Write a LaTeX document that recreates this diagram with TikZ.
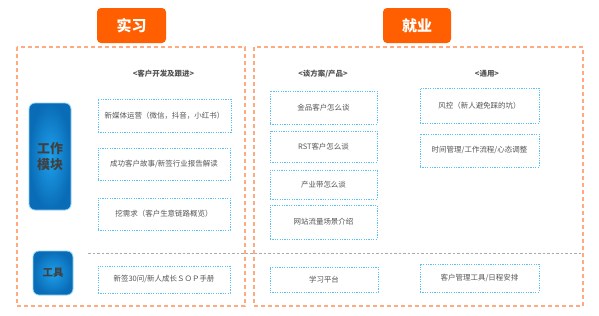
\documentclass[tikz,border=0pt]{standalone}
\usepackage{fontspec}
\setmainfont{Noto Sans CJK SC}
\usetikzlibrary{shadings}
\definecolor{hdr}{HTML}{FF5F00}
\definecolor{frame}{HTML}{FFAA80}
\definecolor{dotblue}{HTML}{5BC0F5}
\definecolor{itemtxt}{HTML}{555555}
\definecolor{sepgray}{HTML}{AAAAAA}
\tikzset{
  hdrbox/.style={fill=hdr, rounded corners=4bp, text=white, font=\fontsize{15}{17}\selectfont\bfseries},
  framebox/.style={draw=frame, line width=1.2bp, dash pattern=on 4bp off 3bp},
  item/.style={draw=dotblue, line width=0.8bp, dash pattern=on 1.2bp off 1.2bp, text=itemtxt, font=\fontsize{7.5}{9}\selectfont},
  grouplabel/.style={text=itemtxt, font=\fontsize{7.5}{9}\selectfont\bfseries},
  bluebox/.style={draw=dotblue!70, line width=0.8bp, rounded corners=6bp, inner color=blue1, outer color=blue2, text=black!75, font=\bfseries},
}
\definecolor{blue1}{HTML}{1EA0EC}
\definecolor{blue2}{HTML}{0A6CB6}
\begin{document}
\begin{tikzpicture}[x=1bp,y=-1bp]
\useasboundingbox[fill=white] (0,0) rectangle (599,315);
% headers
\node[hdrbox, minimum width=69bp, minimum height=35bp] (hshixi) at (131.5,25.5) {实习};
\node[hdrbox, minimum width=68bp, minimum height=35bp] (hjiuye) at (417,25.5) {就业};
% frames
\draw[framebox] (17,47) rectangle (245,306);
\draw[framebox] (254,47) rectangle (583,306);
% separator
\coordinate (sepL) at (88,253);
\coordinate (sepR) at (583,253);
\draw[sepgray, line width=0.8bp, dash pattern=on 2.5bp off 2bp] (sepL) -- (sepR);
% blue boxes
\node[bluebox, minimum width=42bp, minimum height=107bp, font=\fontsize{13}{16}\selectfont\bfseries, align=center] (gzmk) at (50,156.5) {工作\\模块};
\node[bluebox, minimum width=40bp, minimum height=44bp, font=\fontsize{10.5}{12}\selectfont\bfseries] (gj) at (53,273) {工具};
% group labels
\node[grouplabel] (g1) at (163.5,74) {<客户开发及跟进>};
\node[grouplabel] (g2) at (323,74) {<谈方案/产品>};
\node[grouplabel] (g3) at (487,74) {<通用>};
% left items
\node[item, minimum width=133bp, minimum height=33bp] (l1) at (164.5,115.5) {新媒体运营（微信，抖音，小红书）};
\node[item, minimum width=132bp, minimum height=32bp] (l2) at (164,164) {成功客户故事/新签行业报告解读};
\node[item, minimum width=132bp, minimum height=32bp] (l3) at (164,214) {挖需求（客户生意链路概览）};
\node[item, minimum width=132bp, minimum height=27bp] (l4) at (164,279.5) {新签30问/新人成长ＳＯＰ手册};
% middle items
\node[item, minimum width=107bp, minimum height=33bp] (m1) at (323.5,107.5) {金品客户怎么谈};
\node[item, minimum width=107bp, minimum height=31bp] (m2) at (323.5,146.5) {RST客户怎么谈};
\node[item, minimum width=107bp, minimum height=29bp] (m3) at (323.5,184.5) {产业带怎么谈};
\node[item, minimum width=107bp, minimum height=34bp] (m4) at (323.5,222) {网站流量场景介绍};
\node[item, minimum width=108bp, minimum height=25bp] (m5) at (324,279.5) {学习平台};
% right items
\node[item, minimum width=119bp, minimum height=35bp] (r1) at (479.5,105.5) {风控（新人避免踩的坑）};
\node[item, minimum width=119bp, minimum height=33bp] (r2) at (479.5,150.5) {时间管理/工作流程/心态调整};
\node[item, minimum width=119bp, minimum height=28bp] (r3) at (479.5,278) {客户管理工具/日程安排};
\end{tikzpicture}
\end{document}
